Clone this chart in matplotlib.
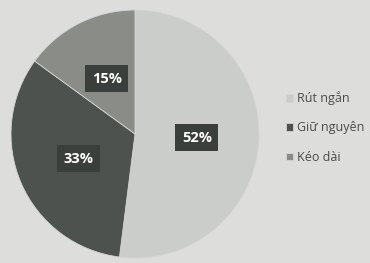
import matplotlib.pyplot as plt

labels = ['Rút ngắn', 'Giữ nguyên', 'Kéo dài']
values = [52, 33, 15]
colors = ['#cbcdca', '#4e524e', '#8a8c88']

plt.rcParams['font.family'] = ['Open Sans', 'DejaVu Sans']

fig = plt.figure(figsize=(3.7, 2.63), dpi=100, facecolor='#dddedc')
ax = fig.add_axes([11/370, 5/263, 248/370, 248/263])
ax.set_facecolor('#dddedc')

wedges, texts, autotexts = ax.pie(values, colors=colors, startangle=90, counterclock=False,
                                  autopct='%d%%', pctdistance=0.5, radius=1.0,
                                  wedgeprops=dict(linewidth=0.6, edgecolor='#d5d6d4'))
for t in autotexts:
    t.set_color('white')
    t.set_fontsize(10.5)
    t.set_fontweight('bold')
    t.set_bbox(dict(boxstyle='square,pad=0.45', facecolor='#3b3f3b', edgecolor='none'))

ax.set_xlim(-1, 1)
ax.set_ylim(-1, 1)
ax.set_aspect('equal')
ax.axis('off')

fig.legend(wedges, labels, loc='upper left', bbox_to_anchor=(275/370, 1 - 80/263),
           frameon=False, fontsize=9, handlelength=0.55, handleheight=0.55,
           handletextpad=0.3, labelspacing=1.3, labelcolor='#4a4a4a')

fig.savefig('out.png', dpi=100, facecolor=fig.get_facecolor())
